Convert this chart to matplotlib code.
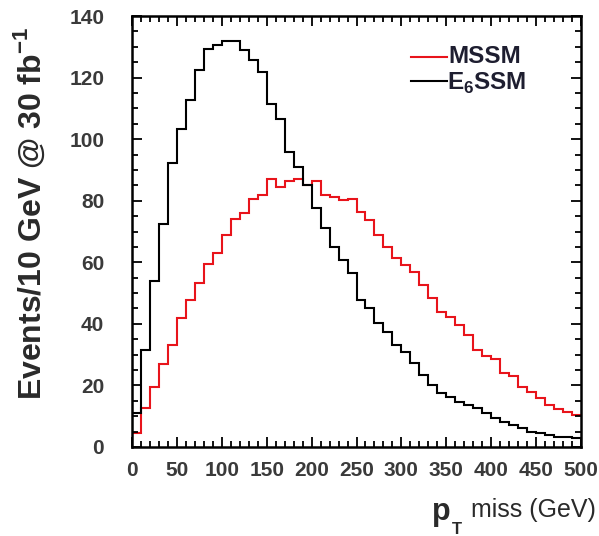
import numpy as np
import matplotlib
matplotlib.use("Agg")
import matplotlib.pyplot as plt
from matplotlib.ticker import MultipleLocator

plt.rcParams['font.family'] = ['Liberation Sans', 'DejaVu Sans']
plt.rcParams['mathtext.fontset'] = 'custom'
plt.rcParams['mathtext.rm'] = 'Liberation Sans'
plt.rcParams['mathtext.bf'] = 'Liberation Sans:bold'

# bin edges: 50 bins of 10 GeV
edges = np.arange(0, 510, 10)

mssm = [4.5, 12.7, 19.6, 27.0, 33.0, 42.0, 47.7, 53.3, 59.4, 63.0,
        68.8, 74.0, 76.1, 80.7, 81.8, 87.2, 84.5, 86.4, 87.2, 85.1,
        86.4, 81.8, 81.3, 80.2, 80.5, 76.4, 73.7, 68.8, 65.0, 61.3,
        59.1, 56.9, 52.6, 48.3, 43.9, 42.3, 39.7, 36.4, 31.5, 29.5,
        28.5, 24.1, 23.1, 19.6, 18.0, 15.8, 13.6, 12.2, 11.5, 10.4]

e6ssm = [10.9, 31.5, 54.0, 72.4, 92.3, 103.4, 112.7, 122.4, 129.4, 130.5,
         132.0, 132.0, 128.9, 125.6, 121.9, 111.4, 106.4, 95.9, 91.0, 85.1,
         77.5, 71.0, 65.0, 60.9, 56.4, 47.7, 45.0, 40.4, 37.4, 33.1,
         30.9, 27.2, 23.4, 20.1, 17.6, 16.2, 14.5, 13.8, 12.6, 10.9,
         9.3, 8.2, 7.1, 6.1, 5.0, 4.6, 3.9, 3.3, 3.1, 2.8]

W, H = 599, 536
fig = plt.figure(figsize=(W / 100, H / 100), dpi=100)
ax = fig.add_axes([132 / W, 1 - 447 / H, (581 - 132) / W, (447 - 16) / H])

ax.stairs(mssm, edges, color='#e8141b', lw=1.5, baseline=None)
ax.stairs(e6ssm, edges, color='black', lw=1.5, baseline=None)

ax.set_xlim(0, 500)
ax.set_ylim(0, 140)

ax.xaxis.set_major_locator(MultipleLocator(50))
ax.xaxis.set_minor_locator(MultipleLocator(10))
ax.yaxis.set_major_locator(MultipleLocator(20))
ax.yaxis.set_minor_locator(MultipleLocator(5))
ax.tick_params(which='both', direction='in', top=True, right=True, width=1.3)
ax.tick_params(which='major', length=7)
ax.tick_params(which='minor', length=4)
ax.tick_params(axis='y', which='major', pad=20, labelsize=15, labelcolor='#3a3a3a')
ax.tick_params(axis='x', which='major', pad=10, labelsize=15, labelcolor='#3a3a3a')
for lab in ax.get_xticklabels() + ax.get_yticklabels():
    lab.set_fontweight('bold')
for s in ax.spines.values():
    s.set_linewidth(1.8)

# y label
fig.text(30 / W, 1 - 213 / H, r'Events/10 GeV @ 30 fb$^{\mathbf{-1}}$',
         rotation=90, ha='center', va='center', fontsize=23, fontweight='bold',
         color='#2a2a2a')

# x label: p_T^miss (GeV)
fig.text(432 / W, 1 - 520 / H, 'p', fontsize=22, fontweight='bold',
         color='#2a2a2a', ha='left', va='baseline')
fig.text(452 / W, 1 - 534 / H, 'T', fontsize=12, fontweight='bold',
         color='#2a2a2a', ha='left', va='baseline')
fig.text(596 / W, 1 - 517 / H, 'miss (GeV)', fontsize=18,
         color='#2a2a2a', ha='right', va='baseline')

# legend
ax.plot([0.621, 0.702], [0.905, 0.905], transform=ax.transAxes,
        color='#e8141b', lw=1.5)
ax.plot([0.621, 0.702], [0.849, 0.849], transform=ax.transAxes,
        color='black', lw=1.5)
fig.text(448 / W, 1 - 63 / H, 'MSSM', fontsize=17.5, fontweight='bold',
         color='#1e1e30', ha='left', va='baseline')
fig.text(447 / W, 1 - 90 / H, r'E$_{\mathbf{6}}$SSM', fontsize=17.5,
         fontweight='bold', color='#1e1e30', ha='left', va='baseline')

fig.savefig('out.png', dpi=100)
